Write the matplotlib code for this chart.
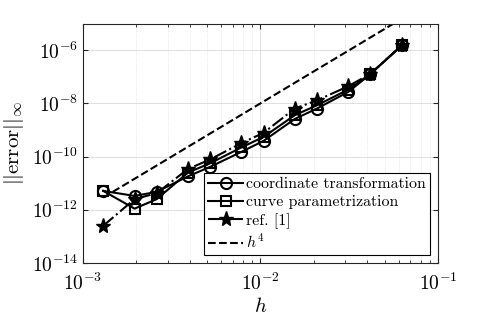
import matplotlib
matplotlib.use("Agg")
import matplotlib.pyplot as plt
import numpy as np

plt.rcParams['font.family'] = 'serif'
plt.rcParams['font.serif'] = ['cmr10', 'DejaVu Serif']
plt.rcParams['mathtext.fontset'] = 'cm'
plt.rcParams['axes.formatter.use_mathtext'] = True

# mesh sizes
h = np.array([1/768, 1/512, 1/384, 1/256, 1/192, 1/128, 1/96, 1/64, 1/48, 1/32, 1/24, 1/16])

err_coord = [5.1e-12, 3.3e-12, 4.7e-12, 1.8e-11, 4.1e-11, 1.5e-10, 3.9e-10, 2.6e-9, 6.4e-9, 2.7e-8, 1.26e-7, 1.5e-6]
err_curve = [5.1e-12, 1.1e-12, 2.5e-12, 2.5e-11, 5.6e-11, 2.2e-10, 5.5e-10, 3.6e-9, 8.5e-9, 3.3e-8, 1.3e-7, 1.5e-6]
err_ref = [2.5e-13, 2.5e-12, 4.2e-12, 3.4e-11, 7.8e-11, 3.2e-10, 7.8e-10, 6.4e-9, 1.3e-8, 4.4e-8, 1.3e-7, 1.5e-6]

fig = plt.figure(figsize=(4.85, 3.23), dpi=100)
ax = fig.add_axes([0.171, 0.186, 0.732, 0.741])

ax.loglog(h, err_coord, 'k-', marker='o', ms=8, mfc='none', mew=1.5, lw=1.5,
          label='coordinate transformation')
ax.loglog(h, err_curve, 'k-', marker='s', ms=7, mfc='none', mew=1.5, lw=1.5,
          label='curve parametrization')
ax.loglog(h, err_ref, 'k-.', marker='*', ms=11, lw=1.5, label='ref. [1]')
ax.loglog(h, h**4, 'k--', lw=1.5, label='$h^4$')

ax.set_xlim(1e-3, 1e-1)
ax.set_ylim(1e-14, 1e-5)
ax.set_yticks([1e-14, 1e-12, 1e-10, 1e-8, 1e-6])
ax.grid(True, which='major', color='0.85', lw=0.6)
ax.grid(True, which='minor', color='0.85', lw=0.5, ls=':')
ax.tick_params(which='both', direction='in', top=True, right=True, colors='0.15',
               labelcolor='k', labelsize=14)
ax.tick_params(axis='x', pad=7)
for s in ax.spines.values():
    s.set_color('0.15')

ax.set_xlabel('$h$', fontsize=15, labelpad=2)
ax.set_ylabel(r'$||\mathrm{error}||_\infty$', fontsize=15)

leg = ax.legend(loc='lower right', fontsize=11.4, fancybox=False, edgecolor='k',
                framealpha=1, handlelength=2.2, borderpad=0.25, labelspacing=0.25,
                handletextpad=0.2, borderaxespad=0.5)
leg.get_frame().set_linewidth(0.8)

fig.savefig('out.png', dpi=100)
